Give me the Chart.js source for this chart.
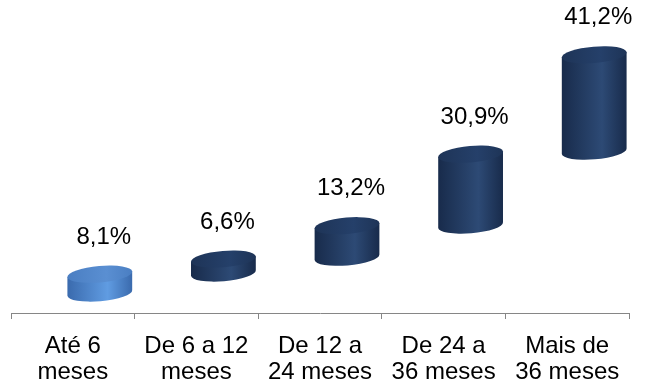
<!DOCTYPE html>
<html>
<head>
<meta charset="utf-8">
<script src="https://cdn.jsdelivr.net/npm/chart.js@4.4.0/dist/chart.umd.min.js"></script>
<style>
  html, body { margin: 0; padding: 0; background: #fff; }
  #wrap { width: 646px; height: 381px; }
</style>
</head>
<body>
<div id="wrap"><canvas id="grafico"></canvas></div>
<script>
// categorias do eixo x
var faixas = [['Até 6', 'meses'], ['De 6 a 12', 'meses'], ['De 12 a', '24 meses'], ['De 24 a', '36 meses'], ['Mais de', '36 meses']];
// percentuais mostrados acima de cada cilindro
var percentuais = [8.1, 6.6, 13.2, 30.9, 41.2];
// base e topo aparentes de cada cilindro (perspectiva 3D)
var bases = [3.3, 6.6, 9.2, 14.5, 26.7];
var topos = [6.4, 8.9, 14.4, 26.2, 42.6];

var cores = [
    { lado: '#3a6aad', meio: '#609ce2', tampa: '#4a7ec2', tampaClara: '#5a8fd2' },
    { lado: '#182b4b', meio: '#2d4a75', tampa: '#1e3457', tampaClara: '#25406a' },
    { lado: '#182b4b', meio: '#2d4a75', tampa: '#1e3457', tampaClara: '#25406a' },
    { lado: '#182b4b', meio: '#2d4a75', tampa: '#1e3457', tampaClara: '#25406a' },
    { lado: '#182b4b', meio: '#2d4a75', tampa: '#1e3457', tampaClara: '#25406a' }
];

var FONTE = '"Liberation Sans", Arial, sans-serif';

// desenha os cilindros a partir dos elementos de barra
var cilindros = {
    id: 'cilindros',
    afterDatasetsDraw: function (chart) {
        var ctx = chart.ctx;
        var meta = chart.getDatasetMeta(0);
        var desloc = 27;   // profundidade da perspectiva
        var ry = 8.2;
        var rot = -0.085;
        meta.data.forEach(function (bar, i) {
            var cx = bar.x + desloc;
            var rx = bar.width / 2;
            var yT = bar.y;
            var yB = bar.base;
            var c = cores[i];
            var dx = rx * Math.cos(rot), dy = rx * Math.sin(rot);

            ctx.save();
            // corpo
            var g = ctx.createLinearGradient(cx - rx, 0, cx + rx, 0);
            g.addColorStop(0, c.lado);
            g.addColorStop(0.62, c.meio);
            g.addColorStop(1, c.lado);
            ctx.beginPath();
            ctx.moveTo(cx - dx, yT - dy);
            ctx.lineTo(cx - dx, yB - dy);
            ctx.ellipse(cx, yB, rx, ry, rot, Math.PI, 0, true);
            ctx.lineTo(cx + dx, yT + dy);
            ctx.closePath();
            ctx.fillStyle = g;
            ctx.fill();

            // tampa
            var gt = ctx.createLinearGradient(cx - rx, yT, cx + rx, yT);
            gt.addColorStop(0, c.tampa);
            gt.addColorStop(0.6, c.tampaClara);
            gt.addColorStop(1, c.tampa);
            ctx.beginPath();
            ctx.ellipse(cx, yT, rx, ry, rot, 0, Math.PI * 2);
            ctx.fillStyle = gt;
            ctx.fill();
            ctx.restore();

            // rótulo
            ctx.save();
            ctx.font = '24px ' + FONTE;
            ctx.fillStyle = '#000';
            ctx.textAlign = 'center';
            ctx.textBaseline = 'middle';
            ctx.fillText(percentuais[i].toFixed(1).replace('.', ',') + '%', cx + 4, yT - 37);
            ctx.restore();
        });
    }
};

var ctx = document.getElementById('grafico').getContext('2d');
new Chart(ctx, {
    type: 'bar',
    data: {
        labels: faixas,
        datasets: [{
            data: bases.map(function (b, i) { return [b, topos[i]]; }),
            backgroundColor: 'rgba(0,0,0,0)',
            borderWidth: 0,
            categoryPercentage: 1,
            barPercentage: 0.526
        }]
    },
    options: {
        responsive: true,
        maintainAspectRatio: false,
        animation: false,
        layout: { padding: { left: 11, right: 17, top: 10, bottom: 0 } },
        plugins: { legend: { display: false }, tooltip: { enabled: false } },
        scales: {
            x: {
                afterFit: function (scale) { scale.height = 68; },
                grid: {
                    offset: true,
                    drawOnChartArea: false,
                    drawTicks: true,
                    tickLength: 6,
                    color: '#868686'
                },
                border: { display: true, color: '#868686', width: 1 },
                ticks: {
                    color: '#000',
                    font: { family: FONTE, size: 24, lineHeight: 1.08 },
                    padding: 14,
                    maxRotation: 0,
                    autoSkip: false
                }
            },
            y: {
                display: false,
                min: 0,
                max: 50
            }
        }
    },
    plugins: [cilindros]
});
</script>
</body>
</html>
